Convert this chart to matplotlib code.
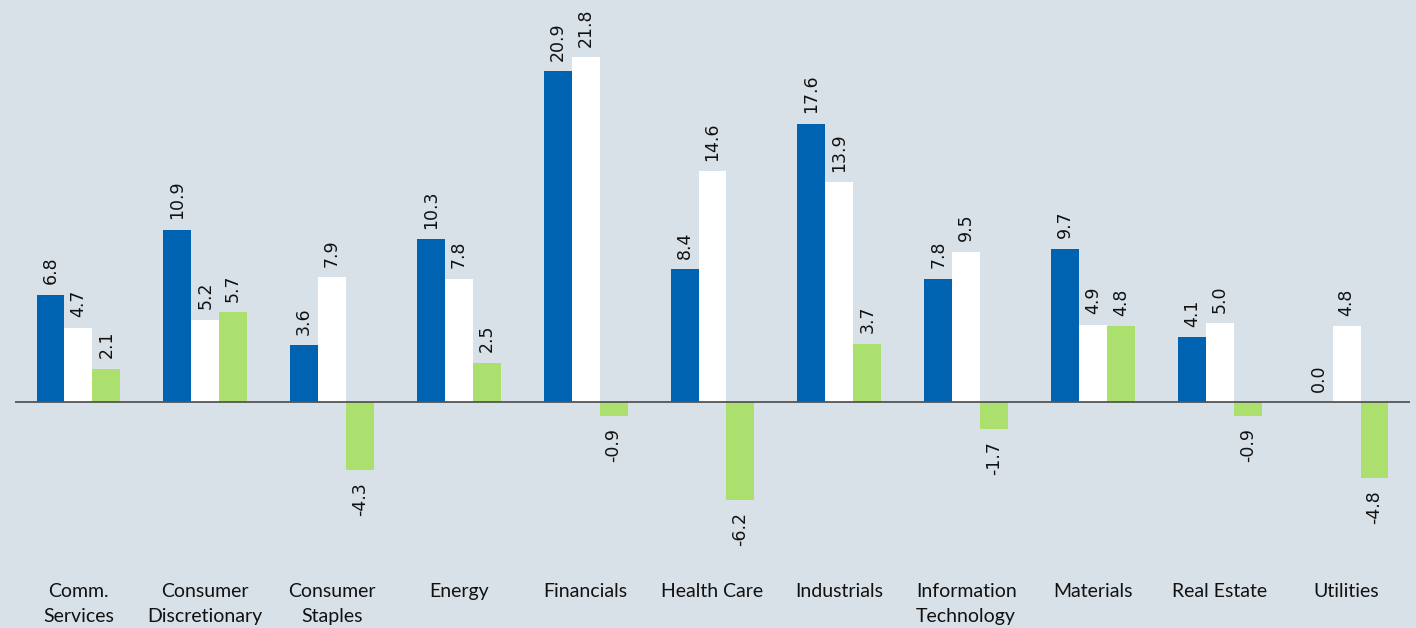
import numpy as np
import matplotlib
matplotlib.use('Agg')
import matplotlib.pyplot as plt

# sector data
sectors = ['Comm.\nServices', 'Consumer\nDiscretionary', 'Consumer\nStaples', 'Energy',
           'Financials', 'Health Care', 'Industrials', 'Information\nTechnology',
           'Materials', 'Real Estate', 'Utilities']
series_a = [6.8, 10.9, 3.6, 10.3, 20.9, 8.4, 17.6, 7.8, 9.7, 4.1, 0.0]
series_b = [4.7, 5.2, 7.9, 7.8, 21.8, 14.6, 13.9, 9.5, 4.9, 5.0, 4.8]
series_c = [2.1, 5.7, -4.3, 2.5, -0.9, -6.2, 3.7, -1.7, 4.8, -0.9, -4.8]

bg = '#d9e1e8'
colors = ['#0063b1', '#ffffff', '#abdf6e']

fig = plt.figure(figsize=(14.16, 6.28), dpi=100, facecolor=bg)
ax = fig.add_axes([15 / 1416, 58 / 628, 1395 / 1416, 570 / 628])
ax.set_facecolor(bg)

x = np.arange(len(sectors))
w = 0.22
for i, (vals, c) in enumerate(zip([series_a, series_b, series_c], colors)):
    pos = x + (i - 1) * w
    ax.bar(pos, vals, width=w, color=c, zorder=2)
    for px, v in zip(pos, vals):
        if v >= 0:
            ax.annotate(f'{v:.1f}', (px, v), xytext=(0, 7.5), textcoords='offset points',
                        rotation=90, ha='center', va='bottom', fontsize=12.5,
                        family='DejaVu Sans', color='#111111')
        else:
            ax.annotate(f'{v:.1f}', (px, v), xytext=(0, -8.5), textcoords='offset points',
                        rotation=90, ha='center', va='top', fontsize=12.5,
                        family='DejaVu Sans', color='#111111')

ax.axhline(0, color='#555555', linewidth=1.3, zorder=3)
ax.set_xlim(-0.5, 10.5)
ax.set_ylim(-10.6, 25.4)
ax.set_yticks([])
ax.set_xticks([])
for s in ax.spines.values():
    s.set_visible(False)

for xi, name in zip(x, sectors):
    ax.text(xi, -11.4, name, ha='center', va='top', fontsize=14, family='Lato',
            linespacing=1.6, color='#111111')

fig.savefig('out.png', dpi=100, facecolor=bg)
